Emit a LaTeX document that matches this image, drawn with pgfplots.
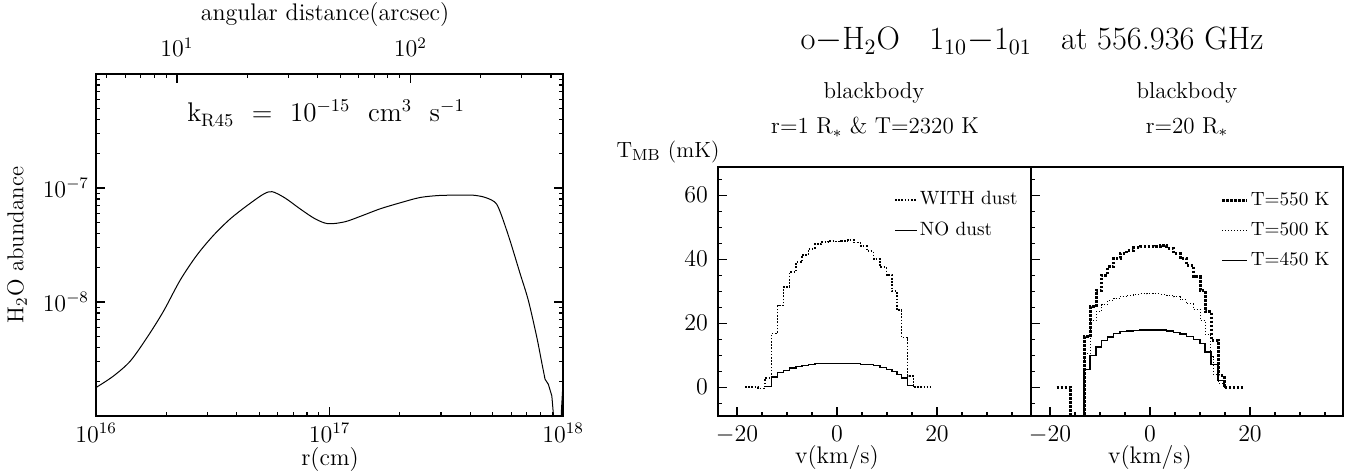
\documentclass[border=0pt]{standalone}
\usepackage{pgfplots}
\pgfplotsset{compat=1.18}
\pgfplotsset{
  mybox/.style={scale only axis, anchor=south west,
    axis line style={line width=0.6pt},
    every tick/.style={line width=0.6pt, black},
    major tick length=4.5pt, minor tick length=2.2pt,
    tick align=inside},
}
\begin{document}
\begin{tikzpicture}[x=1pt,y=1pt]
\useasboundingbox (0,0) rectangle (675,236.5);

% ---------------- left panel ----------------
\begin{axis}[mybox, at={(48pt,28.5pt)}, width=233.5pt, height=171pt,
  xmode=log, ymode=log, xmin=1e16, xmax=1e18, ymin=1e-9, ymax=1e-6,
  xtick={1e16,1e17,1e18}, xticklabels={$10^{16}$,$10^{17}$,$10^{18}$},
  minor xtick={2e16,3e16,4e16,5e16,6e16,7e16,8e16,9e16,2e17,3e17,4e17,5e17,6e17,7e17,8e17,9e17},
  ytick={1e-9,1e-8,1e-7,1e-6}, yticklabels={,$10^{-8}$,$10^{-7}$,},
  minor ytick={2e-9,3e-9,4e-9,5e-9,6e-9,7e-9,8e-9,9e-9,2e-8,3e-8,4e-8,5e-8,6e-8,7e-8,8e-8,9e-8,2e-7,3e-7,4e-7,5e-7,6e-7,7e-7,8e-7,9e-7},
  xtick pos=bottom, ytick pos=both, yticklabel pos=left,
  tick label style={font=\fontsize{11.5}{13}\selectfont}]
\addplot[smooth, tension=0.5, line width=0.5pt, black] coordinates {
(1.000e16,1.778e-9) (1.186e16,2.239e-9) (1.400e16,3.027e-9) (1.648e16,4.831e-9)
(1.941e16,8.241e-9) (2.291e16,1.552e-8) (2.698e16,2.564e-8) (3.177e16,3.828e-8)
(3.750e16,5.346e-8) (4.416e16,6.966e-8) (5.200e16,8.810e-8) (5.675e16,9.290e-8)
(6.442e16,8.185e-8) (7.482e16,6.561e-8) (8.670e16,5.370e-8) (9.863e16,4.864e-8)
(1.164e17,5.058e-8) (1.377e17,5.715e-8) (1.644e17,6.561e-8) (2.004e17,7.413e-8)
(2.443e17,8.26e-8) (2.972e17,8.61e-8) (3.622e17,8.65e-8) (4.121e17,8.65e-8)
(4.560e17,8.36e-8) (4.955e17,7.82e-8) (5.200e17,7.21e-8) (5.458e17,5.71e-8)
(5.929e17,3.46e-8) (6.546e17,1.78e-8) (7.096e17,1.04e-8) (7.709e17,4.99e-9)
(8.110e17,2.93e-9) (8.375e17,2.10e-9)};
\addplot[line width=0.5pt, black] coordinates {
(8.375e17,2.10e-9) (8.650e17,1.90e-9) (8.954e17,1.50e-9) (9.099e17,1.02e-9)
(9.141e17,6.3e-10) (9.80e17,6.3e-10) (9.85e17,1.15e-9) (1.00e18,1.98e-9)};
\end{axis}

% top axis: angular distance
\begin{axis}[mybox, at={(48pt,28.5pt)}, width=233.5pt, height=171pt,
  xmode=log, xmin=4.5, xmax=450, ymin=0, ymax=1,
  axis x line*=top, axis y line=none, tick align=inside,
  xtick={10,100}, xticklabels={$10^{1}$,$10^{2}$},
  minor xtick={5,6,7,8,9,20,30,40,50,60,70,80,90,200,300,400},
  xticklabel style={yshift=5pt},
  tick label style={font=\fontsize{11.5}{13}\selectfont}]
\end{axis}

% ---------------- panel 1 ----------------
\begin{axis}[mybox, at={(359pt,28.5pt)}, width=156.5pt, height=124.5pt,
  xmin=-23.8, xmax=38.8, ymin=-9, ymax=68.8,
  xtick={-20,0,20}, minor xtick={-15,-10,-5,5,10,15,25,30,35},
  ytick={0,20,40,60}, minor ytick={-5,5,10,15,25,30,35,45,50,55,65},
  xtick pos=bottom, ytick pos=left,
  tick label style={font=\fontsize{11.5}{13}\selectfont},
  yticklabel style={xshift=-1.5pt}, xticklabel style={yshift=-1.5pt},
  legend style={draw=none, fill=none, at={(0.965,0.912)}, anchor=north east,
    font=\fontsize{9.6}{11}\selectfont, row sep=5pt, inner sep=0pt,
    nodes={inner sep=1pt, text height=6.5pt, text depth=2pt}},
  legend cell align=left,
  legend image code/.code={\draw[#1] (0pt,0pt) -- (11pt,0pt);}]
\addplot[const plot, black, line width=0.9pt, dash pattern=on 0.8pt off 0.8pt] coordinates {
(-18.4,0) (-15.8,-0.4) (-14.4,2.8) (-13.1,16.8) (-11.9,25.5) (-10.7,31.3)
(-9.5,36) (-8.2,39) (-7.0,41.3) (-5.7,43.3) (-4.4,44.7) (-3.1,45.3)
(-1.8,45.8) (-0.5,45.5) (0.8,45.6) (2.1,45.9) (3.4,45.2) (4.7,44)
(6.0,42.5) (7.3,40) (8.6,37.5) (9.9,35) (11.0,30) (12.0,24) (12.9,15.5)
(14.1,3.5) (15.3,0) (18.8,0)};
\addlegendentry{WITH dust}
\addplot[const plot, black, line width=0.65pt] coordinates {
(-14.4,0.3) (-13.1,3.2) (-11.9,4.5) (-10.7,5.3) (-9.5,6.0) (-8.2,6.5)
(-7.0,6.8) (-5.7,7.1) (-4.4,7.3) (-3.1,7.4) (-1.8,7.5) (-0.5,7.5)
(0.8,7.5) (2.1,7.5) (3.4,7.4) (4.7,7.2) (6.0,7.0) (7.3,6.7) (8.6,6.2)
(9.9,5.6) (11.0,4.8) (12.0,4.0) (12.9,2.9) (14.1,0.5) (15.3,0)};
\addlegendentry{NO dust}
\end{axis}

% ---------------- panel 2 ----------------
\begin{axis}[mybox, at={(515.5pt,28.5pt)}, width=156pt, height=124.5pt,
  xmin=-23.8, xmax=38.6, ymin=-9, ymax=68.8,
  xtick={-20,0,20}, minor xtick={-15,-10,-5,5,10,15,25,30,35},
  ytick={0,20,40,60}, minor ytick={-5,5,10,15,25,30,35,45,50,55,65},
  yticklabels={},
  xtick pos=bottom, ytick pos=left,
  tick label style={font=\fontsize{11.5}{13}\selectfont},
  xticklabel style={yshift=-1.5pt},
  legend style={draw=none, fill=none, at={(0.965,0.908)}, anchor=north east,
    font=\fontsize{9.6}{11}\selectfont, row sep=4.5pt, inner sep=0pt,
    nodes={inner sep=1pt, text height=6.5pt, text depth=2pt}},
  legend cell align=left,
  legend image code/.code={\draw[#1] (0pt,0pt) -- (12.5pt,0pt);}]
\addplot[const plot, black, line width=1.5pt, dash pattern=on 1.2pt off 0.8pt] coordinates {
(-18.7,0) (-15.9,-20) (-13.2,15.7) (-12.0,25.1) (-10.8,30.3) (-9.7,35)
(-8.5,37.6) (-7.3,40.2) (-6.0,41.8) (-4.7,42.8) (-3.3,43.6) (-2.0,43.9)
(-0.7,44.0) (0.6,43.9) (2.0,44.2) (3.3,43.4) (4.7,41.8) (6.0,40.2)
(7.3,38.1) (8.7,34.5) (10.0,30.3) (11.0,23.5) (12.3,14.7) (13.6,3.7)
(14.8,0) (18.7,0)};
\addlegendentry{T=550 K}
\addplot[const plot, black, line width=0.5pt, dash pattern=on 0.5pt off 1pt] coordinates {
(-15.9,-20) (-13.2,10.5) (-12.0,20.8) (-10.8,23.5) (-9.7,25.8) (-8.5,27.0)
(-7.3,27.8) (-6.0,28.4) (-4.7,28.8) (-3.3,29.1) (-2.0,29.3) (-0.7,29.2)
(0.6,29.2) (2.0,29.1) (3.3,28.8) (4.7,28.2) (6.0,27.3) (7.3,26.0)
(8.7,24.3) (10.0,20.8) (11.0,16.5) (12.0,9.5) (12.6,4) (13.6,1.3) (14.8,0)};
\addlegendentry{T=500 K}
\addplot[const plot, black, line width=0.65pt] coordinates {
(-15.9,-20) (-13.2,5.5) (-12.0,10) (-10.8,12.6) (-9.7,14.7) (-8.5,15.7)
(-7.3,16.8) (-6.0,17.3) (-4.7,17.6) (-3.3,17.8) (-2.0,17.9) (-0.7,17.9)
(0.6,17.9) (2.0,17.9) (3.3,17.6) (4.7,17.2) (6.0,16.6) (7.3,15.8)
(8.7,14.8) (10.0,13.6) (11.0,11.0) (12.2,7.0) (13.6,2.0) (14.8,0)};
\addlegendentry{T=450 K}
\end{axis}

% ---------------- texts ----------------
\node[font=\fontsize{12}{14}\selectfont] at (162.5,229) {angular distance(arcsec)};
\node[font=\fontsize{12}{14}\selectfont] at (165,6.5) {r(cm)};
\node[rotate=90, font=\fontsize{11.5}{14}\selectfont] at (8.5,114) {H$_2$O abundance};
\node[font=\fontsize{13.5}{15}\selectfont] at (163,180) {k$_{\rm R45}$\ \ =\ \ 10$^{-15}$\ \ cm$^3$\ \ s$^{-1}$};
\node[font=\fontsize{16.2}{19}\selectfont] at (516,216) {o$-$H$_2$O\ \ \ 1$_{10}$$-$1$_{01}$\ \ \ at 556.936 GHz};
\node[font=\fontsize{11.5}{13}\selectfont] at (437,190) {blackbody};
\node[font=\fontsize{11.5}{13}\selectfont] at (437.5,173) {r=1 R$_*$ \& T=2320 K};
\node[font=\fontsize{11.5}{13}\selectfont] at (593.5,190) {blackbody};
\node[font=\fontsize{11.5}{13}\selectfont] at (593.5,173) {r=20 R$_*$};
\node[font=\fontsize{11}{13}\selectfont] at (334,160.5) {T$_{\rm MB}$ (mK)};
\node[font=\fontsize{12}{14}\selectfont] at (418.5,7.5) {v(km/s)};
\node[font=\fontsize{12}{14}\selectfont] at (575,7.5) {v(km/s)};
\end{tikzpicture}
\end{document}
